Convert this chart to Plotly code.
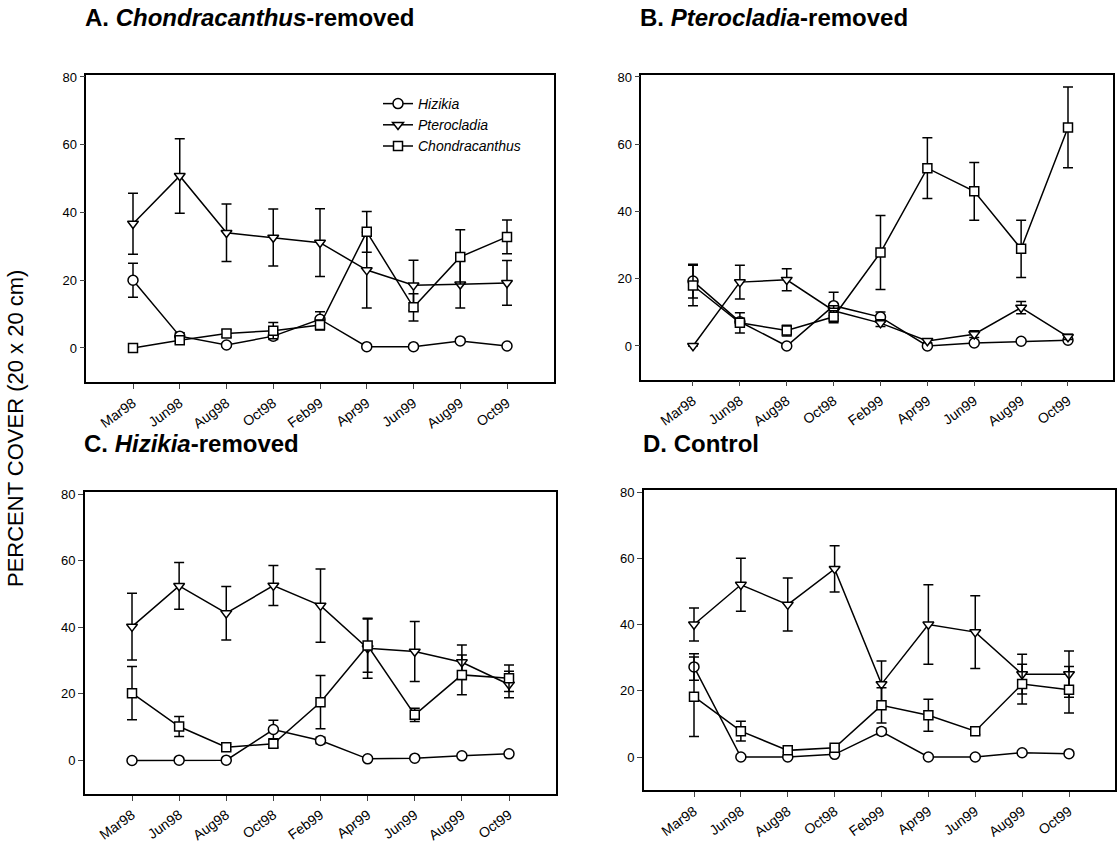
import plotly.graph_objects as go

W, H = 1119, 842

dates = ["Mar98", "Jun98", "Aug98", "Oct98", "Feb99", "Apr99", "Jun99", "Aug99", "Oct99"]
species = ["Hizikia", "Pterocladia", "Chondracanthus"]

# Panel A: Chondracanthus-removed
hiz_A = [20, 3.5, 0.9, 3.5, 8.5, 0.4, 0.4, 2.1, 0.6]
hiz_A_err = [5, 1, 0.5, 1, 2.2, 0.3, 0.3, 0.5, 0.3]
pte_A = [36.7, 50.8, 34.0, 32.6, 31.1, 23.0, 18.5, 18.8, 19.2]
pte_A_err = [9, 11, 8.5, 8.4, 10, 11.2, 7.4, 7, 6.6]
cho_A = [0, 2.3, 4.3, 5.1, 6.8, 34.3, 12, 26.9, 32.8]
cho_A_err = [0, 1, 1, 2.4, 1.5, 6, 4, 8, 5]

# Panel B: Pterocladia-removed
hiz_B = [19.3, 7.2, 0, 12, 8.6, 0, 0.9, 1.4, 1.7]
hiz_B_err = [5, 1, 0.5, 4, 1.5, 0.3, 0.3, 0.3, 0.3]
pte_B = [0, 19, 19.7, 10.5, 6.8, 1.5, 3.5, 11.4, 2.7]
pte_B_err = [0, 5, 3.3, 1.5, 1, 0.5, 1, 1.8, 0.8]
cho_B = [18, 6.9, 4.6, 8.7, 27.8, 52.9, 46, 28.9, 65]
cho_B_err = [6, 3, 1.6, 1.8, 11, 9, 8.6, 8.5, 12]

# Panel C: Hizikia-removed
hiz_C = [0, 0.1, 0.1, 9.3, 6.0, 0.5, 0.7, 1.4, 2.0]
hiz_C_err = [0.2, 0.2, 0.2, 2.8, 1, 0.3, 0.3, 0.3, 0.3]
pte_C = [40.2, 52.4, 44.2, 52.5, 46.5, 33.7, 32.7, 29.5, 22.8]
pte_C_err = [10, 7, 8, 6, 11, 9, 9, 5.2, 4]
cho_C = [20.2, 10.2, 4.0, 5.0, 17.5, 34.5, 13.7, 25.7, 24.7]
cho_C_err = [8, 3, 0.8, 1, 8, 8, 2, 6, 4]

# Panel D: Control
hiz_D = [27.2, 0, 0, 0.8, 7.7, 0, 0, 1.3, 1.0]
hiz_D_err = [4, 0.2, 0.2, 0.3, 1, 0.2, 0.2, 0.3, 0.3]
pte_D = [40, 52, 46, 56.8, 22, 40, 37.7, 25, 25]
pte_D_err = [5, 8, 8, 7, 7, 12, 11, 6, 7]
cho_D = [18.2, 7.8, 2.0, 2.8, 15.6, 12.6, 7.8, 22, 20.3]
cho_D_err = [12, 3, 0.5, 0.5, 5.3, 4.8, 1, 6, 7]

y_ticks = [0, 20, 40, 60, 80]


def xp(px):
    return min(1.0, max(0.0, px / W))


def yp(py):
    return min(1.0, max(0.0, 1 - py / H))


panels = [
    dict(vals=[(hiz_A, hiz_A_err), (pte_A, pte_A_err), (cho_A, cho_A_err)],
         title="<b>A. <i>Chondracanthus</i>-removed</b>",
         px=(133, 46.75, -1.0, 9.0), py=(348, 77), ax="", ty=18),
    dict(vals=[(hiz_B, hiz_B_err), (pte_B, pte_B_err), (cho_B, cho_B_err)],
         title="<b>B. <i>Pterocladia</i>-removed</b>",
         px=(693, 46.875, -1.1, 8.95), py=(346, 77), ax="2", ty=18),
    dict(vals=[(hiz_C, hiz_C_err), (pte_C, pte_C_err), (cho_C, cho_C_err)],
         title="<b>C. <i>Hizikia</i>-removed</b>",
         px=(132, 47.125, -1.0, 9.0), py=(760.5, 494), ax="3", ty=443),
    dict(vals=[(hiz_D, hiz_D_err), (pte_D, pte_D_err), (cho_D, cho_D_err)],
         title="<b>D. Control</b>",
         px=(694, 46.875, -1.07, 8.98), py=(757, 492), ax="4", ty=443),
]

symbols = ["circle", "triangle-down", "square"]
sizes = [10, 9.5, 9]
FONT = "Liberation Sans, Arial, Helvetica, sans-serif"

fig = go.Figure()
layout = dict(
    width=W, height=H, margin=dict(l=0, r=0, t=0, b=0, autoexpand=False),
    paper_bgcolor="white", plot_bgcolor="white",
    font=dict(family=FONT, color="black", size=12),
    showlegend=True,
    legend=dict(x=xp(378), y=yp(88), xanchor="left", yanchor="top",
                bgcolor="rgba(0,0,0,0)", borderwidth=0,
                font=dict(family=FONT, size=14, color="black"),
                tracegroupgap=0, itemwidth=30),
    annotations=[],
)

xcat = list(range(len(dates)))
y_lo, y_hi = -10, 80.5

for i, p in enumerate(panels):
    x0, dx, xr0, xr1 = p["px"]
    y0pix, y80pix = p["py"]
    upu = (y0pix - y80pix) / 80.0
    dom_x = [xp(x0 + xr0 * dx), xp(x0 + xr1 * dx)]
    bot = y0pix - y_lo * upu
    top = y0pix - y_hi * upu
    dom_y = [yp(bot), yp(top)]
    ax = p["ax"]
    for k, (vals, errs) in enumerate(p["vals"]):
        fig.add_trace(go.Scatter(
            x=xcat, y=vals, mode="lines+markers",
            name="<i>" + species[k] + "</i>",
            legendgroup=species[k], showlegend=(i == 0),
            line=dict(color="black", width=1.5),
            marker=dict(symbol=symbols[k], size=sizes[k], color="white",
                        line=dict(color="black", width=1.5)),
            error_y=dict(type="data", array=errs, visible=True,
                         color="black", thickness=1.5, width=5),
            xaxis="x" + ax, yaxis="y" + ax,
        ))
    layout["xaxis" + ax] = dict(
        domain=dom_x, range=[xr0, xr1], tickmode="array", tickvals=xcat,
        ticktext=dates, tickangle=-36, ticks="outside", ticklen=5,
        tickwidth=1.2, showline=True, linecolor="black", linewidth=1.5,
        mirror=True, showgrid=False, zeroline=False, anchor="y" + ax,
        automargin=False, ticklabelstandoff=1,
        tickfont=dict(family=FONT, size=14, color="black"),
    )
    layout["yaxis" + ax] = dict(
        domain=dom_y, range=[y_lo, y_hi], tickmode="array", tickvals=y_ticks,
        ticks="outside", ticklen=5, tickwidth=1.2, showline=True,
        linecolor="black", linewidth=1.5, mirror=True, showgrid=False,
        zeroline=False, anchor="x" + ax, automargin=False,
        tickfont=dict(family=FONT, size=13, color="black"),
    )
    layout["annotations"].append(dict(
        text=p["title"], x=xp(x0 + xr0 * dx - 3), y=yp(p["ty"]),
        xref="paper", yref="paper",
        xanchor="left", yanchor="middle", showarrow=False,
        font=dict(family=FONT, size=24, color="black"),
    ))

layout["annotations"].append(dict(
    text="PERCENT COVER (20 x 20 cm)", x=xp(15), y=yp(429),
    xref="paper", yref="paper", xanchor="center", yanchor="middle",
    textangle=-90, showarrow=False,
    font=dict(family=FONT, size=22, color="black"),
))

fig.update_layout(**layout)
fig.write_html(
    "out.html",
    config={"displayModeBar": False},
    post_script="document.body.style.margin='0px';"
                "document.documentElement.style.overflow='hidden';",
)
